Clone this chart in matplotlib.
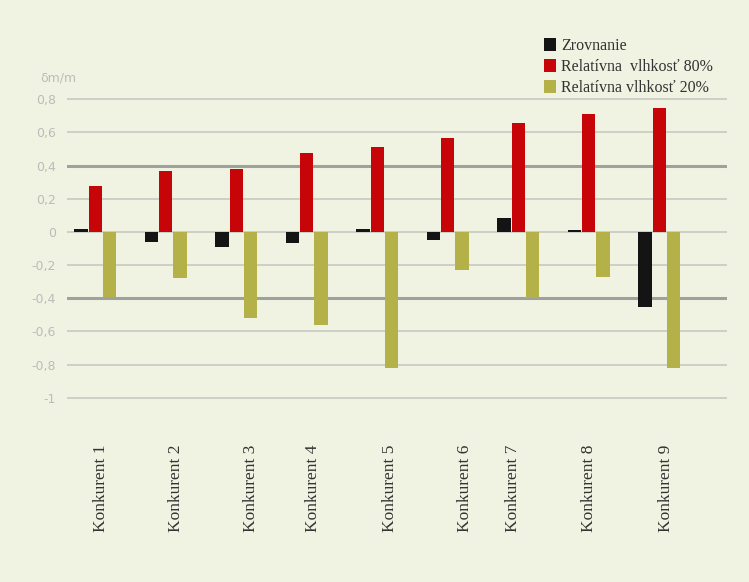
import matplotlib
matplotlib.use("Agg")
import matplotlib.pyplot as plt
from matplotlib.patches import Patch
import numpy as np

# ---- data ----
categories = ["Konkurent 1", "Konkurent 2", "Konkurent 3", "Konkurent 4", "Konkurent 5",
              "Konkurent 6", "Konkurent 7", "Konkurent 8", "Konkurent 9"]
zrovnanie = [0.015, -0.06, -0.09, -0.065, 0.015, -0.05, 0.085, 0.012, -0.45]
vlhkost80 = [0.28, 0.37, 0.38, 0.475, 0.51, 0.565, 0.66, 0.71, 0.75]
vlhkost20 = [-0.39, -0.28, -0.52, -0.56, -0.82, -0.23, -0.40, -0.27, -0.82]
series_names = ["Zrovnanie", "Relatívna  vlhkosť 80%", "Relatívna vlhkosť 20%"]
ytick_values = [0.8, 0.6, 0.4, 0.2, 0, -0.2, -0.4, -0.6, -0.8, -1]
ytick_labels = ["0,8", "0,6", "0,4", "0,2", "0", "-0,2", "-0,4", "-0,6", "-0,8", "-1"]
y_unit = "δm/m"

# ---- layout (label offsets relative to groups, as in the source) ----
label_shift = [0.08, 0.14, 0.21, 0.09, 0.18, 0.24, -0.08, 0.01, 0.09]

bg = "#f1f3e2"
c_black = "#141414"
c_red = "#c70508"
c_olive = "#b3b148"
serif = ["Liberation Serif", "DejaVu Serif"]

fig = plt.figure(figsize=(7.49, 5.82), dpi=100, facecolor=bg)
ax = fig.add_axes([0.0895, 0.3024, 0.881, 0.5412], facecolor=bg)

x = np.arange(len(categories))
w = 0.19
# gridlines
for v in ytick_values:
    if abs(abs(v) - 0.4) < 1e-9:
        ax.axhline(v, color="#9ea29c", lw=2.2, zorder=0)
    else:
        ax.axhline(v, color="#c2c6bf", lw=1.1, zorder=0)

ax.bar(x - 0.2, zrovnanie, width=w, color=c_black, zorder=2)
ax.bar(x, vlhkost80, width=w, color=c_red, zorder=2)
ax.bar(x + 0.2, vlhkost20, width=w, color=c_olive, zorder=2)

ax.set_xlim(-0.4, 8.96)
ax.set_ylim(-1.05, 0.85)
for s in ax.spines.values():
    s.set_visible(False)

ax.set_yticks(ytick_values, ytick_labels)
ax.tick_params(axis="y", length=0, pad=8, labelsize=9, labelcolor="#b9bdb8")

ax.set_xticks(x + np.array(label_shift), categories, rotation=90,
              fontfamily=serif, fontsize=12.5, color="#333333", va="top")
ax.tick_params(axis="x", length=0, pad=28)

ax.text(-0.041, 1.042, y_unit, transform=ax.transAxes, ha="left", va="center",
        fontsize=9, color="#b9bdb8")

handles = [Patch(facecolor=c, edgecolor="none") for c in (c_black, c_red, c_olive)]
fig.legend(handles, series_names, loc="upper left", bbox_to_anchor=(0.726, 0.935),
           frameon=False, prop={"family": serif, "size": 11.5}, borderpad=0,
           borderaxespad=0, handlelength=0.75, handleheight=0.9, handletextpad=0.35,
           labelspacing=0.3, labelcolor="#333333")

fig.savefig("out.png", dpi=100, facecolor=bg)
